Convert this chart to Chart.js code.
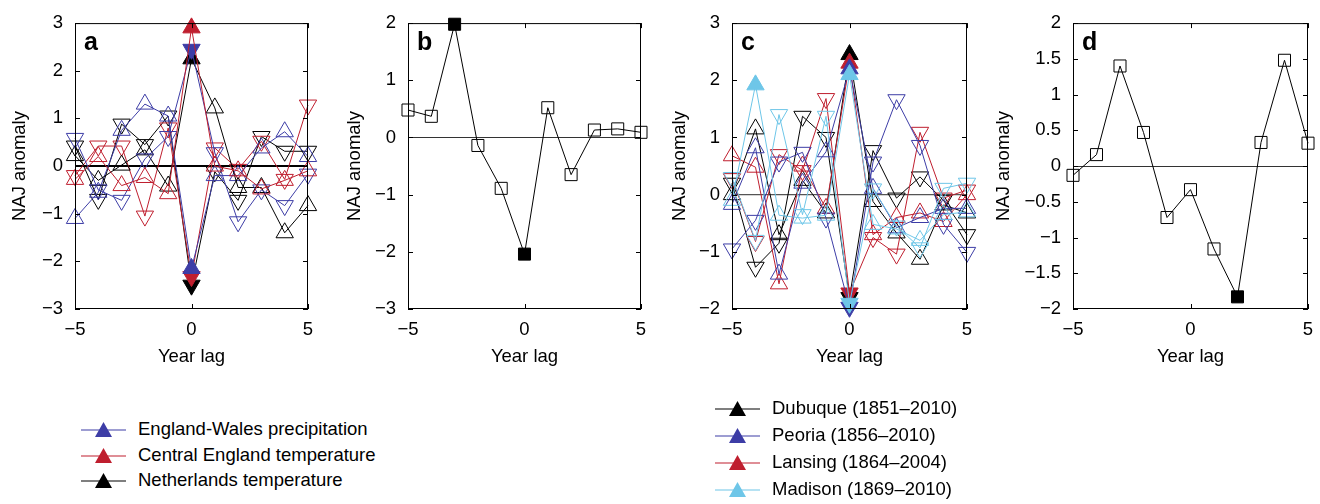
<!DOCTYPE html>
<html>
<head>
<meta charset="utf-8">
<script src="https://cdn.jsdelivr.net/npm/chart.js@4.4.1/dist/chart.umd.min.js"></script>
<style>
  body { margin: 0; background: #fff; width: 1320px; height: 504px; position: relative; overflow: hidden;
         font-family: "Liberation Sans", Arial, Helvetica, sans-serif; }
  canvas { position: absolute; top: 0; }
  .row { position: absolute; height: 26px; line-height: 26px; font-size: 18.5px; color: #000;
         white-space: nowrap; display: flex; align-items: center; }
  .row svg { margin-right: 12px; }
</style>
</head>
<body>
<canvas id="chartA" width="331" height="380"></canvas>
<canvas id="chartB" width="329" height="380"></canvas>
<canvas id="chartC" width="330" height="380"></canvas>
<canvas id="chartD" width="347" height="380"></canvas>
<div id="legendA"></div>
<div id="legendC"></div>
<script>
const lags = [-5, -4, -3, -2, -1, 0, 1, 2, 3, 4, 5];

// panel a: up-triangle and down-triangle composites
const ewpUp   = [-1.1, -0.55, 0.75, 1.3, 1.05, -2.15, -0.2, -0.2, 0.38, 0.72, 0.2];
const ewpDown = [0.58, -0.5, -0.72, 0.15, 0.62, 2.45, 0.28, -1.17, -0.5, -0.83, -0.17];
const cetUp   = [-0.28, 0.2, -0.41, -0.24, -0.58, 2.9, 0.0, -0.1, -0.48, -0.3, -0.1];
const cetDown = [-0.2, 0.42, 0.42, -1.05, 0.8, -2.32, 0.38, -0.07, 0.52, -0.28, 1.28];
const netUp   = [0.22, -0.3, 0.02, 0.34, -0.42, 2.25, 1.22, -0.45, -0.45, -1.4, -0.83];
const netDown = [0.42, -0.7, 0.88, 0.45, 1.05, -2.5, -0.12, -0.72, 0.62, 0.31, 0.31];

// panel b
const naoB = [0.48, 0.37, 1.98, -0.14, -0.89, -2.04, 0.52, -0.65, 0.13, 0.15, 0.09];
const filledB = [-3, 0];

// panel c
const dubUp   = [0.0, 1.15, -0.7, 0.25, -0.32, 2.45, -0.12, -0.67, -1.13, -0.18, -0.32];
const dubDown = [0.2, -1.27, -0.85, 1.37, 1.0, -1.8, 0.77, -0.06, 0.31, -0.1, -0.7];
const peoUp   = [-0.17, 0.82, -1.39, 0.2, 0.75, 2.2, 0.11, -0.58, -0.4, -0.24, -0.24];
const peoDown = [-0.95, -0.45, 0.57, 0.74, -0.41, -1.97, 0.57, 1.66, 0.86, -0.52, -1.01];
const lanUp   = [0.68, 0.48, -1.56, 0.5, -0.24, 2.3, -0.7, -0.4, -0.32, -0.47, 0.0];
const lanDown = [0.28, -0.82, 0.7, 0.42, 1.68, -1.72, -0.75, -1.04, 1.09, -0.06, 0.08];
const madUp   = [-0.1, 1.92, -0.36, -0.41, -0.36, 2.1, -0.52, -0.6, -0.8, -0.35, -0.3];
const madDown = [0.3, -0.8, 1.4, -0.35, 1.37, -1.9, 0.1, -0.55, -0.93, 0.11, 0.2];
const filledMadUp = [-4, 0];

// panel d
const naoD = [-0.13, 0.16, 1.40, 0.47, -0.72, -0.33, -1.16, -1.83, 0.33, 1.48, 0.32];
const filledD = [2];

const legendA = ['England-Wales precipitation', 'Central England temperature', 'Netherlands temperature'];
const legendC = ['Dubuque (1851\u20132010)', 'Peoria (1856\u20132010)', 'Lansing (1864\u20132004)', 'Madison (1869\u20132010)'];

const BLUE = '#3d3da6';
const RED = '#bf1e2e';
const LIGHT = '#6ec6e8';
const BLACK = '#000000';
const FONT = '"Liberation Sans", Arial, Helvetica, sans-serif';

const framePlugin = {
  id: 'frame',
  afterDraw(chart, args, opts) {
    const {ctx, chartArea: a, scales: {x, y}} = chart;
    ctx.save();
    ctx.strokeStyle = '#000';
    ctx.lineWidth = 1;
    ctx.strokeRect(a.left + 0.5, a.top + 0.5, a.right - a.left - 1, a.bottom - a.top - 1);
    ctx.beginPath();
    const tl = 5;
    x.ticks.forEach(t => {
      const px = Math.round(x.getPixelForValue(t.value)) + 0.5;
      ctx.moveTo(px, a.bottom); ctx.lineTo(px, a.bottom - tl);
      ctx.moveTo(px, a.top); ctx.lineTo(px, a.top + tl);
    });
    y.ticks.forEach(t => {
      const py = Math.round(y.getPixelForValue(t.value)) + 0.5;
      ctx.moveTo(a.left, py); ctx.lineTo(a.left + tl, py);
      ctx.moveTo(a.right, py); ctx.lineTo(a.right - tl, py);
    });
    ctx.stroke();
    ctx.fillStyle = '#000';
    ctx.font = 'bold 25px ' + FONT;
    ctx.textBaseline = 'alphabetic';
    ctx.fillText(opts.letter, a.left + 9, a.top + 27);
    ctx.restore();
  }
};

function pts(vals) {
  return lags.map((l, i) => ({x: l, y: vals[i]}));
}

function fills(color, filledLags) {
  return lags.map(l => filledLags.includes(l) ? color : 'rgba(0,0,0,0)');
}

function triSeries(vals, color, down, filledLags) {
  return {
    data: pts(vals),
    borderColor: color,
    borderWidth: 1,
    pointStyle: 'triangle',
    pointRotation: down ? 180 : 0,
    pointRadius: 10,
    pointHoverRadius: 10,
    pointBorderWidth: 1,
    pointBorderColor: color,
    pointBackgroundColor: fills(color, filledLags)
  };
}

function squareSeries(vals, filledLags) {
  return {
    data: pts(vals),
    borderColor: BLACK,
    borderWidth: 1,
    pointStyle: 'rect',
    pointRadius: 8.5,
    pointHoverRadius: 8.5,
    pointBorderWidth: 1,
    pointBorderColor: BLACK,
    pointBackgroundColor: fills(BLACK, filledLags)
  };
}

const fmt = v => String(v).replace('-', '\u2212');

function makePanel(id, left, yWidth, plotW, yMin, yMax, yStep, letter, zeroColor, zeroWidth, datasets) {
  const canvas = document.getElementById(id);
  canvas.width = yWidth + plotW + 22;
  canvas.style.left = (left - yWidth) + 'px';
  new Chart(canvas, {
    type: 'line',
    data: {datasets: datasets},
    options: {
      responsive: false,
      animation: false,
      events: [],
      layout: {padding: {left: 0, right: 22, top: 19, bottom: 0}},
      elements: {line: {tension: 0}},
      datasets: {line: {clip: false}},
      scales: {
        x: {
          type: 'linear', min: -5, max: 5,
          ticks: {stepSize: 5, padding: 10, color: '#000', autoSkip: false, maxRotation: 0,
                  font: {family: FONT, size: 18.5}, callback: fmt},
          grid: {display: false, drawTicks: false},
          border: {display: false},
          title: {display: true, text: 'Year lag', color: '#000', font: {family: FONT, size: 18.5},
                  padding: {top: 0, bottom: 12}},
          afterFit: s => { s.height = 71; }
        },
        y: {
          type: 'linear', min: yMin, max: yMax,
          ticks: {stepSize: yStep, padding: 12, color: '#000', autoSkip: false,
                  font: {family: FONT, size: 18.5}, callback: fmt},
          grid: {drawTicks: false,
                 color: c => c.tick.value === 0 ? zeroColor : 'rgba(0,0,0,0)',
                 lineWidth: c => c.tick.value === 0 ? zeroWidth : 0},
          border: {display: false},
          title: {display: true, text: 'NAJ anomaly', color: '#000', font: {family: FONT, size: 18.5},
                  padding: {top: 10, bottom: 0}},
          afterFit: s => { s.width = yWidth; }
        }
      },
      plugins: {legend: {display: false}, tooltip: {enabled: false}, frame: {letter: letter}}
    },
    plugins: [framePlugin]
  });
}

makePanel('chartA', 75, 76, 233, -3, 3, 1, 'a', '#000', 2, [
  triSeries(cetUp, RED, false, [0]),
  triSeries(ewpDown, BLUE, true, [0]),
  triSeries(netUp, BLACK, false, [0]),
  triSeries(ewpUp, BLUE, false, [0]),
  triSeries(cetDown, RED, true, [0]),
  triSeries(netDown, BLACK, true, [0])
]);

makePanel('chartB', 408, 74, 233, -3, 2, 1, 'b', '#333', 1, [
  squareSeries(naoB, filledB)
]);

makePanel('chartC', 732, 73, 235, -2, 3, 1, 'c', '#555', 1.2, [
  triSeries(madUp, LIGHT, false, filledMadUp),
  triSeries(madDown, LIGHT, true, [0]),
  triSeries(peoUp, BLUE, false, [0]),
  triSeries(peoDown, BLUE, true, [0]),
  triSeries(lanUp, RED, false, [0]),
  triSeries(lanDown, RED, true, [0]),
  triSeries(dubUp, BLACK, false, [0]),
  triSeries(dubDown, BLACK, true, [0])
]);

makePanel('chartD', 1073, 90, 235, -2, 2, 0.5, 'd', '#333', 1, [
  squareSeries(naoD, filledD)
]);

function buildLegend(id, names, colors, left, top, step) {
  const box = document.getElementById(id);
  names.forEach((name, i) => {
    const row = document.createElement('div');
    row.className = 'row';
    row.style.left = left + 'px';
    row.style.top = (top + i * step - 13) + 'px';
    const c = colors[i];
    row.innerHTML = '<svg width="45" height="20"><line x1="0" y1="11" x2="45" y2="11" stroke="' + c +
      '" stroke-width="1.2"/><polygon points="22.5,3 14,18 31,18" fill="' + c + '"/></svg>';
    const span = document.createElement('span');
    span.textContent = name;
    row.appendChild(span);
    box.appendChild(row);
  });
}

buildLegend('legendA', legendA, [BLUE, RED, BLACK], 81, 429, 25.5);
buildLegend('legendC', legendC, [BLACK, BLUE, RED, LIGHT], 715, 408, 27);
</script>
</body>
</html>
